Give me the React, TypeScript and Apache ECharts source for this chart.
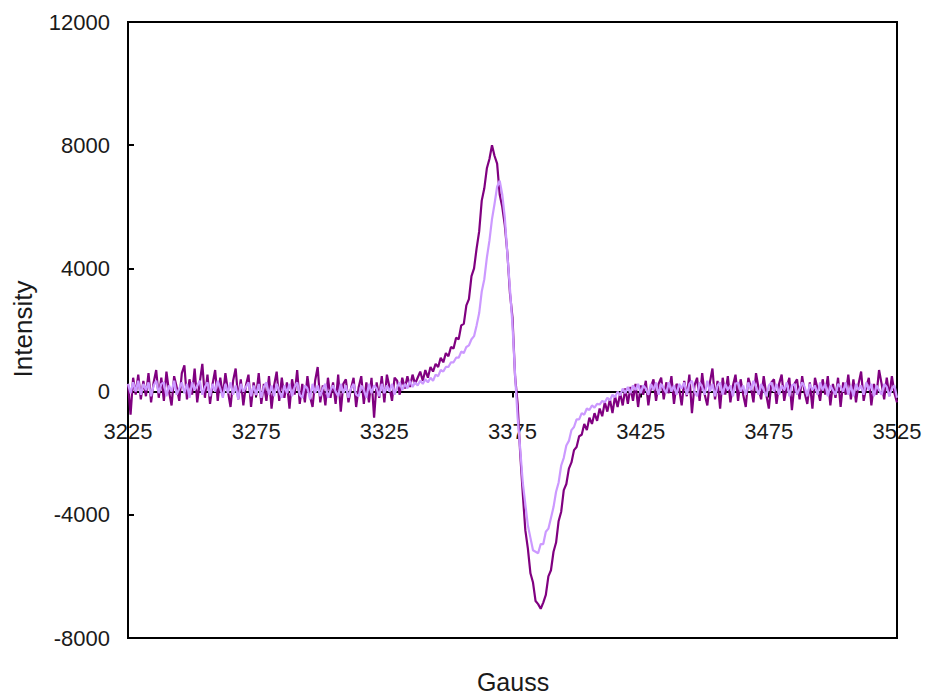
import React, { useEffect, useRef } from "react";
import * as echarts from "echarts";

// Field axis (Gauss): one sample per gauss from 3225 to 3525
const gaussStart = 3225;
const gaussStep = 1;
const xTickLabels = [3225, 3275, 3325, 3375, 3425, 3475, 3525];
const yTickLabels = [-8000, -4000, 0, 4000, 8000, 12000];

// Dark purple trace: 3225..3329
const darkLeft = [
  250, -750, 450, -100, 550, -250, 350, -150, 600, -350,
  300, 700, -200, 450, -300, 650, 0, -450, 500, 150,
  -300, 600, 850, -250, 400, -100, 750, -350, 300, 900,
  -200, 550, -400, 250, 700, -300, 450, -150, 600, 0,
  -500, 350, 750, -250, 400, -450, 200, 550, -500, 300,
  -150, 600, -400, 250, -300, 500, -550, 200, 650, -300,
  450, -200, 300, -550, 400, -100, 700, -400, 250, -350,
  500, -150, -500, 350, 800, -350, 200, -450, 450, -200,
  300, -400, 550, -650, 250, 400, -350, 100, 450, -500,
  150, 500, -400, 300, -350, 450, -850, 300, -200, 500,
  -350, 550, 150, -300, 450,
];
// 3330..3440
const darkSignal = [
  350, -100, 450, 100, 500, 150, 550, 250, 450, 650,
  350, 700, 450, 800, 650, 900, 800, 1100, 950, 1250,
  1150, 1450, 1400, 1750, 1700, 2150, 2200, 2800, 3000, 3750,
  4000, 4650, 5200, 6200, 6600, 7250, 7550, 8000, 7650, 7400,
  6400, 6000, 5400, 4500, 3200, 2400, 500, -400, -2000, -3300,
  -4500, -5100, -5900, -6200, -6800, -6900, -7050, -6850, -6600, -6000,
  -5800, -5200, -4900, -4200, -3900, -3200, -3000, -2500, -2300, -1900,
  -1800, -1450, -1400, -1050, -1250, -850, -1050, -700, -950, -550,
  -800, -350, -650, -250, -700, -150, -500, -50, -450, 100,
  -400, 150, -300, 250, -500, 200, -100, 350, -450, 150,
  400, -300, 250, 450, -250, 300, -50, 500, -400, 250,
  100,
];
// 3441..3525
const darkRight = [
  -450, 350, -150, 550, -700, 200, 450, -300, 600, -100,
  -450, 300, 750, -250, 350, -550, 450, -100, 500, -350,
  200, 550, -300, 400, -100, -500, 450, 150, -350, 600,
  100, -250, 500, -100, -550, 300, 400, -400, 250, 550,
  -300, 150, 450, -600, 250, 400, -250, 500, -50, -400,
  300, -550, 450, 100, -300, 400, -100, 500, -450, 250,
  -200, 450, -500, 300, -100, 550, -250, 400, -350, 250,
  650, -300, 150, 450, -450, 250, -100, 700, 250, -250,
  450, -150, 500, -50, -350,
];

// Light purple trace: 3225..3329
const lightLeft = [
  250, -50, 300, 0, 350, -100, 250, 50, 300, -150,
  200, 350, -50, 250, 300, -150, 200, 0, 350, -100,
  100, 300, -50, 250, -200, 300, 50, 200, 350, -100,
  150, 300, -150, 250, 0, 350, 100, -200, 250, -50,
  300, -100, 200, -250, 250, 0, 150, 300, -150, 200,
  -100, 250, -200, 150, 300, -100, 200, -150, 250, 0,
  -200, 200, -50, 250, -150, 150, 300, -100, -200, 200,
  100, -250, 250, -50, 200, -150, 100, 250, -200, 50,
  200, 0, -150, 250, -50, 200, -200, 100, 250, -100,
  -150, 200, 50, -200, 250, -50, 200, 100, -150, 250,
  -50, 200, 0, 250, -100,
];
// 3330..3440
const lightSignal = [
  150, 300, 50, 250, 100, 350, 150, 300, 200, 350,
  250, 400, 300, 450, 350, 550, 500, 700, 650, 800,
  800, 950, 950, 1100, 1100, 1300, 1250, 1450, 1500, 1700,
  1800, 2150, 2550, 3250, 3650, 4350, 4900, 5600, 6100, 6650,
  6850, 6400, 5650, 4450, 3350, 2150, 550, -850, -1850, -2950,
  -3650, -4350, -4750, -5150, -5200, -5250, -4950, -4950, -4550, -4450,
  -4100, -3750, -3250, -2950, -2400, -2150, -1750, -1600, -1250, -1150,
  -900, -900, -700, -750, -550, -600, -450, -520, -400, -420,
  -300, -350, -200, -280, -100, -180, 0, -120, 100, -50,
  150, -50, 200, 50, 250, -50, 200, 100, -100, 250,
  50, 300, -100, 250, 100, -50, 300, 0, 200, -100,
  250,
];
// 3441..3525
const lightRight = [
  100, 300, -100, 250, 350, 0, -150, 300, 150, -100,
  350, 0, 250, -150, 200, 300, -100, 250, 50, 200,
  -150, 250, 300, 0, 200, -100, 300, 50, 350, 150,
  -100, 250, 50, -150, 200, 300, 0, 250, -100, 200,
  50, 300, -150, 200, 250, -100, 100, 300, 150, -150,
  250, 50, 200, -100, 300, 50, 250, -150, 200, 50,
  -100, 250, 150, 0, 300, -100, 200, -150, 250, 50,
  200, -100, 300, 50, 250, -150, 200, 50, -100, 250,
  150, -150, 100, 200, -200,
];

const darkValues = [...darkLeft, ...darkSignal, ...darkRight];
const lightValues = [...lightLeft, ...lightSignal, ...lightRight];

// x stored as offset from gaussStart so ticks land on 3225, 3275, ...
const toPairs = (vals: number[]) => vals.map((v, i) => [i * gaussStep, v]);

const FONT = "'Liberation Sans', Arial, sans-serif";
const GRID_TOP = 22;
const GRID_BOTTOM_PX = 638;

export default function App() {
  const ref = useRef<HTMLDivElement>(null);

  useEffect(() => {
    if (!ref.current) return;
    const chart = echarts.init(ref.current, null, { renderer: "svg" });
    const xSpan = xTickLabels[xTickLabels.length - 1] - xTickLabels[0];
    chart.setOption({
      animation: false,
      backgroundColor: "#ffffff",
      grid: {
        left: 128,
        right: 30,
        top: GRID_TOP,
        bottom: 697 - GRID_BOTTOM_PX,
        show: true,
        borderColor: "#000",
        borderWidth: 2,
        backgroundColor: "transparent",
      },
      xAxis: {
        type: "value",
        min: 0,
        max: xSpan,
        interval: 50,
        axisLine: { onZero: true, lineStyle: { color: "#000", width: 2 } },
        axisTick: { show: true, length: 6, inside: false, lineStyle: { color: "#000", width: 2 } },
        axisLabel: {
          // labels sit just below the zero line, as in the reference
          margin: -(GRID_BOTTOM_PX - 420),
          fontSize: 22,
          fontFamily: FONT,
          color: "#1a1a1a",
          formatter: (v: number) => String(gaussStart + v),
        },
        splitLine: { show: false },
      },
      yAxis: {
        type: "value",
        min: yTickLabels[0],
        max: yTickLabels[yTickLabels.length - 1],
        interval: 4000,
        axisLine: { show: true, onZero: false, lineStyle: { color: "#000", width: 2 } },
        axisTick: { show: true, inside: true, length: 6, lineStyle: { color: "#000", width: 2 } },
        axisLabel: {
          margin: 18,
          fontSize: 22,
          fontFamily: FONT,
          color: "#1a1a1a",
          formatter: (v: number) => String(v),
        },
        splitLine: { show: false },
      },
      graphic: [
        {
          type: "text",
          x: 23,
          y: 329,
          rotation: Math.PI / 2,
          style: {
            text: "Intensity",
            fontSize: 26,
            fontFamily: FONT,
            fill: "#1a1a1a",
            textAlign: "center",
            textVerticalAlign: "middle",
          },
        },
        {
          type: "text",
          x: 513,
          y: 682,
          style: {
            text: "Gauss",
            fontSize: 25,
            fontFamily: FONT,
            fill: "#1a1a1a",
            textAlign: "center",
            textVerticalAlign: "middle",
          },
        },
      ],
      series: [
        {
          name: "dark",
          type: "line",
          data: toPairs(darkValues),
          showSymbol: false,
          lineStyle: { color: "#800080", width: 2.2 },
          itemStyle: { color: "#800080" },
        },
        {
          name: "light",
          type: "line",
          data: toPairs(lightValues),
          showSymbol: false,
          lineStyle: { color: "#cc99ff", width: 2.2 },
          itemStyle: { color: "#cc99ff" },
        },
      ],
    });
    return () => chart.dispose();
  }, []);

  return (
    <div
      ref={ref}
      style={{ position: "absolute", left: 0, top: 0, width: 927, height: 697, background: "#fff" }}
    />
  );
}
